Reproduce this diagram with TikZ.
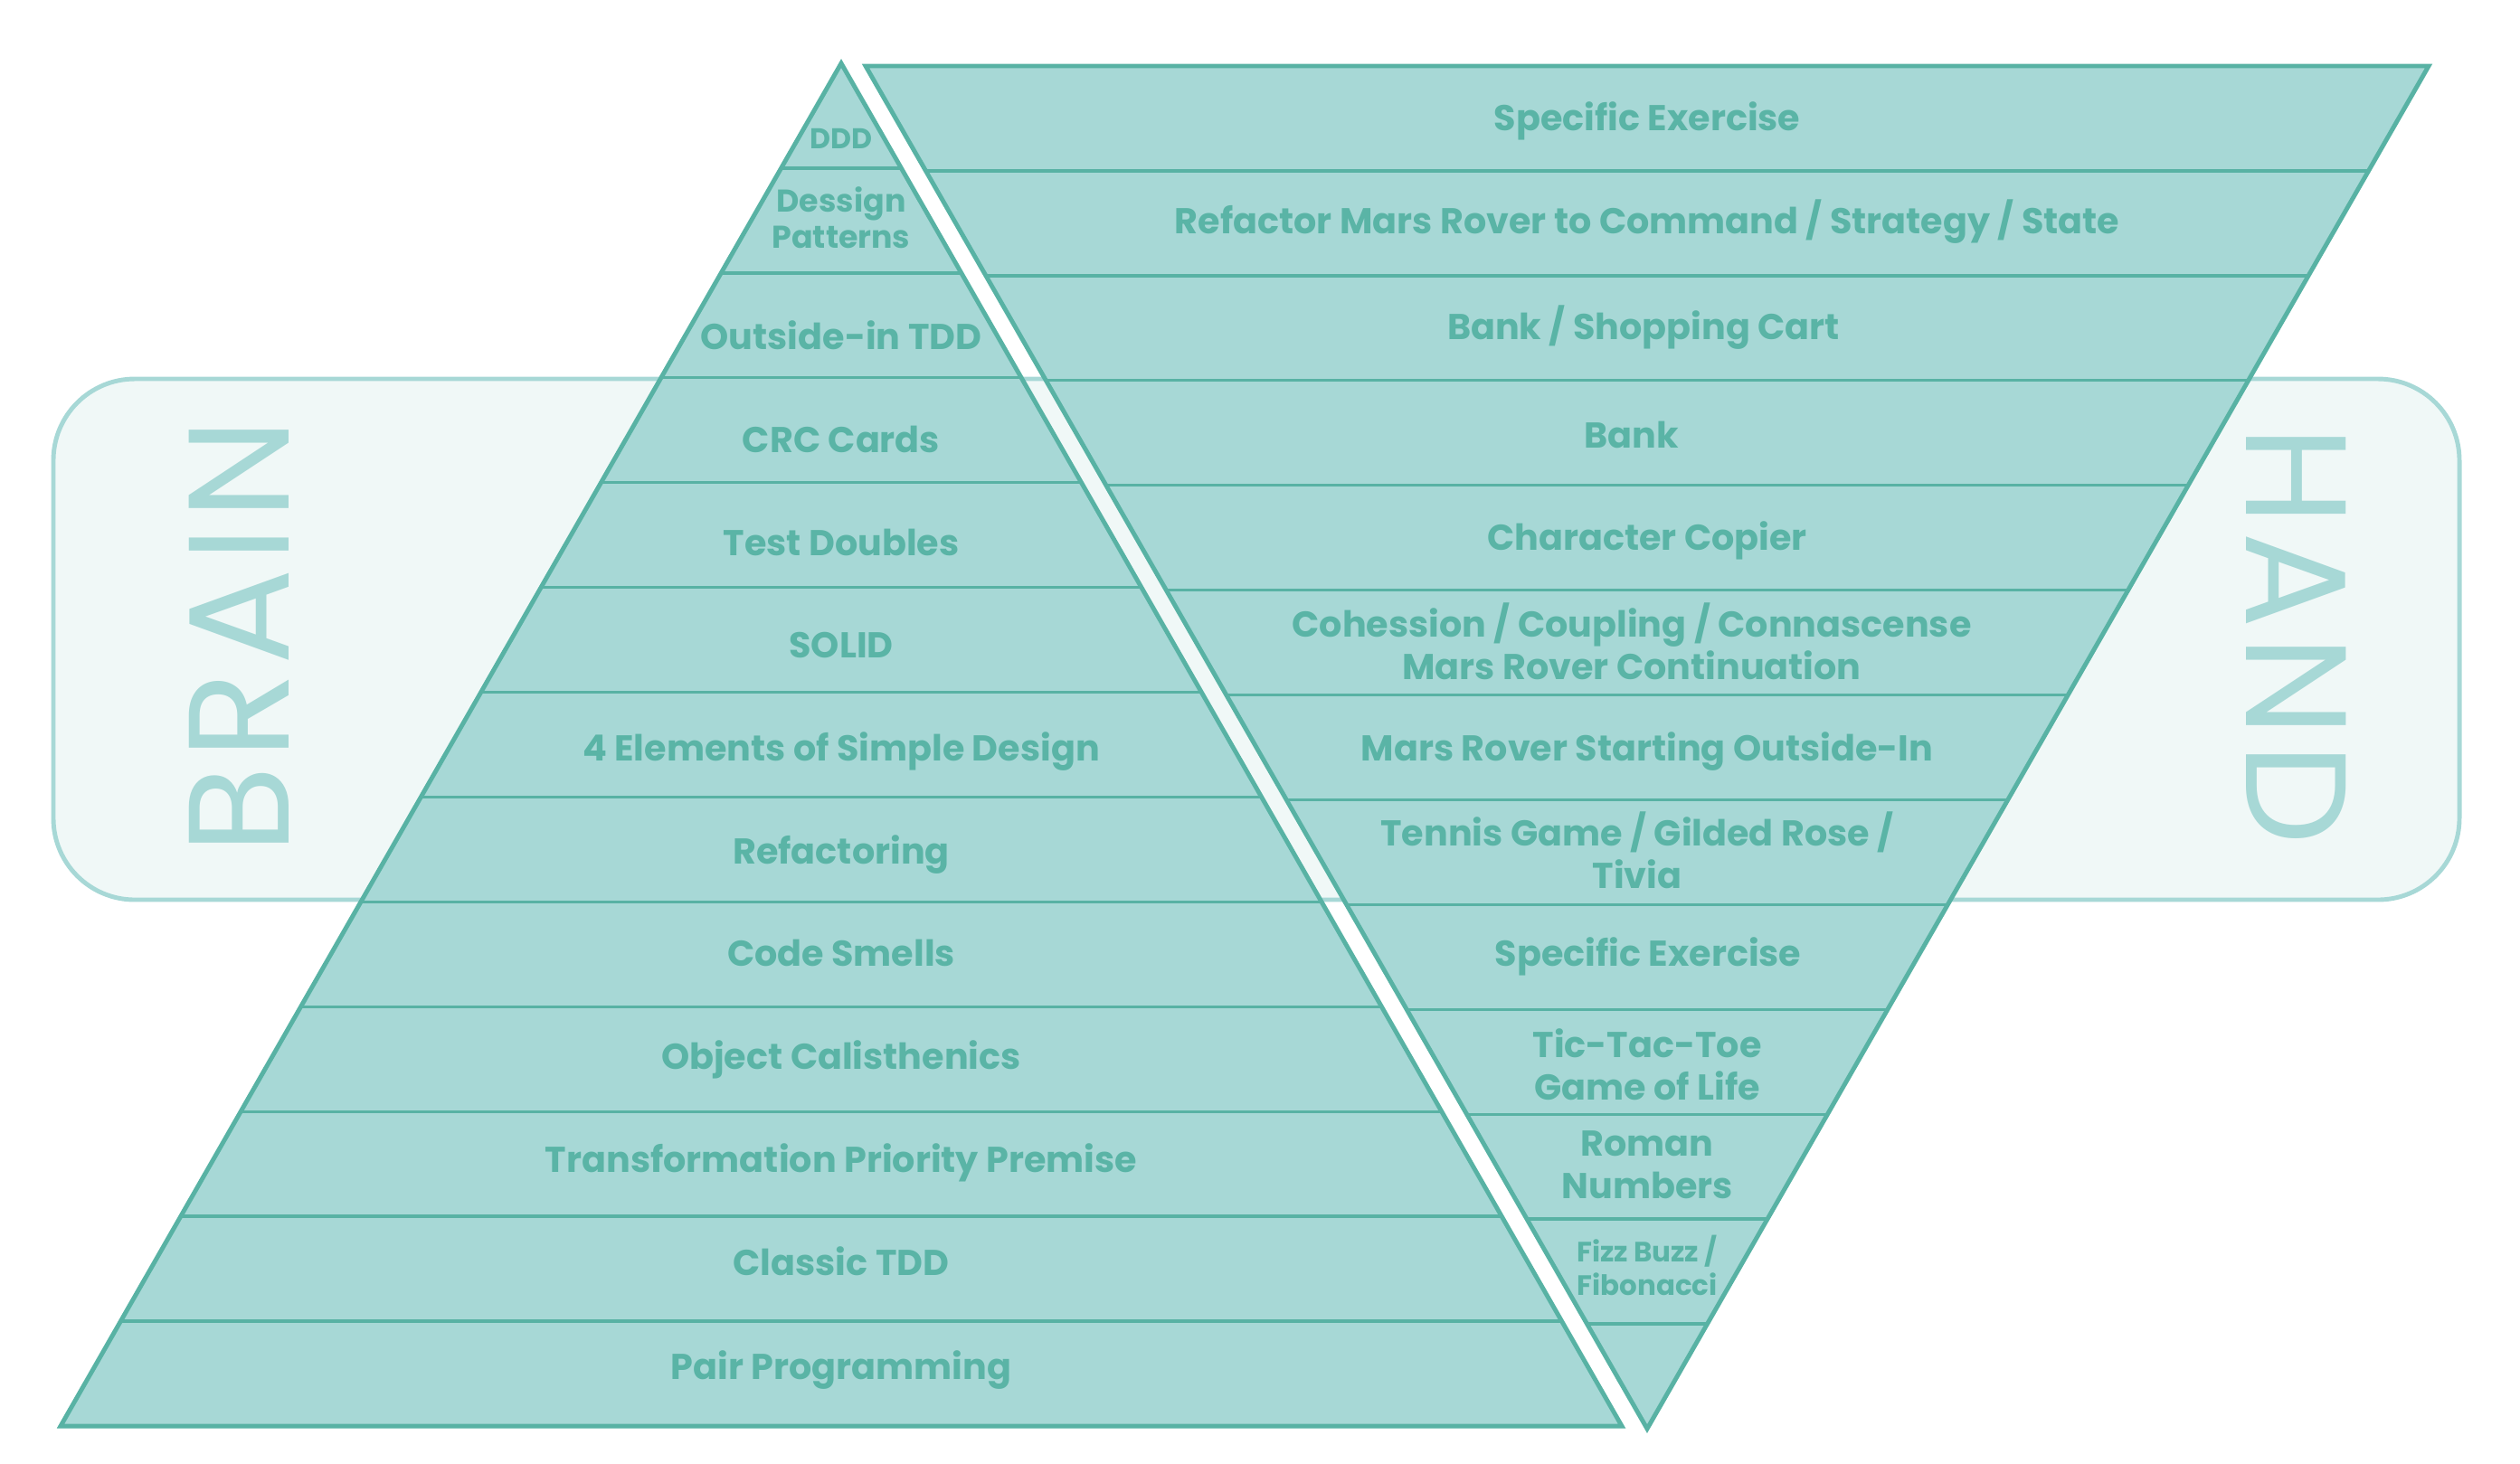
\documentclass[tikz,border=0pt]{standalone}
\usepackage{fontspec}
\setmainfont{Poppins}
\newfontfamily\wordfont[LetterSpace=5]{Poppins}
\usepackage{tikz}
\usetikzlibrary{calc}
\definecolor{tealfill}{RGB}{167,216,214}
\definecolor{tealline}{RGB}{88,178,164}
\definecolor{tealtext}{RGB}{90,180,166}
\definecolor{bandfill}{RGB}{240,248,247}
\tikzset{
  band/.style={draw=tealfill, fill=bandfill, line width=1.4pt, rounded corners=0.9cm,
               minimum width=26.6cm, minimum height=5.76cm, inner sep=0pt},
  stack/.style={draw=tealline, fill=tealfill, line width=1.4pt, line join=miter},
  rowline/.style={draw=tealline, line width=0.95pt},
  lbl/.style={font=\fontsize{11.3}{13.2}\selectfont\bfseries, text=tealtext, align=center,
              inner sep=0pt, text height=7.9pt, text depth=0pt},
  % two lines: the box sits on the last baseline, so the height spans both lines
  twolbl/.style={lbl, text height=21.1pt},
  smalllbl/.style={lbl, font=\fontsize{8.8}{10.6}\selectfont\bfseries, text height=6.1pt},
  bigword/.style={font=\fontsize{45}{45}\selectfont\wordfont, text=tealfill, inner sep=0pt,
                  text height=31pt, text depth=0pt},
}

\begin{document}
\begin{tikzpicture}
\useasboundingbox (0,0) rectangle (27.86,-16.18);

% ---------------- background band ----------------
\node[band] (band) at (13.89,-7.07) {};

% ---------------- left: pyramid (brain) ----------------
\coordinate (apex) at (9.30,-0.70);
\coordinate (bl) at (0.67,-15.77);
\coordinate (br) at (17.93,-15.77);
\draw[stack] (apex) -- (bl) -- (br) -- cycle;
\foreach \k in {1,...,12}
  \draw[rowline] ({9.30-0.6639*\k},{-0.70-1.1592*\k}) -- ({9.30+0.6639*\k},{-0.70-1.1592*\k});

% ---------------- right: inverted stack (hand) ----------------
\coordinate (tl) at (9.57,-0.73);
\coordinate (tr) at (26.85,-0.73);
\coordinate (tip) at (18.21,-15.80);
\draw[stack] (tl) -- (tr) -- (tip) -- cycle;
\foreach \k in {1,...,12}
  \draw[rowline] ({9.57+0.6646*\k},{-0.73-1.1592*\k}) -- ({26.85-0.6646*\k},{-0.73-1.1592*\k});

% pyramid labels, top to bottom
\node[smalllbl, font=\fontsize{9}{10.6}\selectfont\bfseries, text height=6.3pt]
  (b1) at (9.30,-1.53) {DDD};
\node[smalllbl, font=\fontsize{9.9}{11.4}\selectfont\bfseries, text height=18.3pt]
  (b2) at (9.30,-2.42) {Dessign\\Patterns};
\node[lbl] (b3) at (9.30,-3.73) {Outside-in TDD};
\node[lbl] (b4) at (9.30,-4.87) {CRC Cards};
\node[lbl] (b5) at (9.30,-6.01) {Test Doubles};
\node[lbl] (b6) at (9.30,-7.14) {SOLID};
\node[lbl] (b7) at (9.30,-8.28) {4 Elements of Simple Design};
\node[lbl] (b8) at (9.30,-9.42) {Refactoring};
\node[lbl] (b9) at (9.30,-10.55) {Code Smells};
\node[lbl] (b10) at (9.30,-11.69) {Object Calisthenics};
\node[lbl] (b11) at (9.30,-12.83) {Transformation Priority Premise};
\node[lbl] (b12) at (9.30,-13.97) {Classic TDD};
\node[lbl] (b13) at (9.30,-15.12) {Pair Programming};

% inverted stack labels, top to bottom (last row stays empty)
\node[lbl] (h1) at (18.21,-1.31) {Specific Exercise};
\node[lbl] (h2) at (18.21,-2.45) {Refactor Mars Rover to Command / Strategy / State};
\node[lbl] (h3) at (18.17,-3.62) {Bank / Shopping Cart};
\node[lbl] (h4) at (18.04,-4.82) {Bank};
\node[lbl] (h5) at (18.21,-5.95) {Character Copier};
\node[twolbl] (h6) at (18.04,-7.14) {Cohession / Coupling / Connascense\\Mars Rover Continuation};
\node[lbl] (h7) at (18.21,-8.28) {Mars Rover Starting Outside-In};
\node[twolbl] (h8) at (18.10,-9.45) {Tennis Game / Gilded Rose /\\Tivia};
\node[lbl] (h9) at (18.22,-10.55) {Specific Exercise};
\node[twolbl] (h10) at (18.21,-11.79) {Tic-Tac-Toe\\Game of Life};
\node[twolbl] (h11) at (18.21,-12.88) {Roman\\Numbers};
\node[smalllbl, text height=16.7pt] (h12) at (18.21,-14.03) {Fizz Buzz /\\Fibonacci};

% ---------------- side words ----------------
\node[bigword, rotate=90] (brain) at (2.65,-7.04) {BRAIN};
\node[bigword, rotate=-90] (hand) at (25.38,-7.03) {HAND};
\end{tikzpicture}
\end{document}
